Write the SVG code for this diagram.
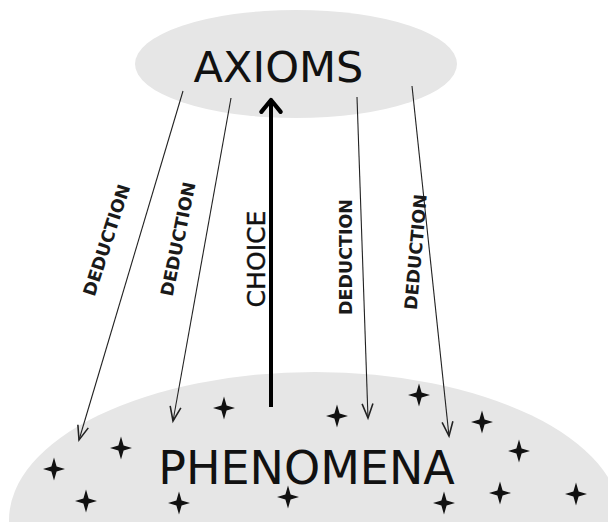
<svg xmlns="http://www.w3.org/2000/svg" xmlns:xlink="http://www.w3.org/1999/xlink" width="608" height="522" viewBox="0 0 608 522">
  <style>
    .blob { fill: #e6e6e6; }
    .big { font-family: "DejaVu Sans", "Liberation Sans", sans-serif; fill: #111; text-anchor: middle; }
    .ded { font-family: "DejaVu Sans", "Liberation Sans", sans-serif; font-weight: bold; font-size: 17.5px; fill: #1a1a1a; text-anchor: middle; }
    .choice { font-family: "DejaVu Sans", "Liberation Sans", sans-serif; font-size: 24px; fill: #111; stroke: #111; stroke-width: 0.4; text-anchor: middle; }
    .thin { stroke: #222; stroke-width: 1.1; fill: none; marker-end: url(#openHead); }
    .thick { stroke: #000; stroke-width: 4; fill: none; marker-end: url(#boldHead); }
    .star { fill: #111; }
  </style>
  <defs>
    <marker id="openHead" markerUnits="userSpaceOnUse" orient="auto" refX="0" refY="0" markerWidth="20" markerHeight="20" viewBox="-12 -6 14 12" overflow="visible">
      <path d="M-10,-3.8 L0,0 L-10,3.8" fill="none" stroke="#222" stroke-width="1.1"/>
    </marker>
    <marker id="boldHead" markerUnits="userSpaceOnUse" orient="auto" refX="0" refY="0" markerWidth="30" markerHeight="30" viewBox="-16 -14 20 28" overflow="visible">
      <path d="M-11,-9 L0,0 L-11,9" fill="none" stroke="#000" stroke-width="4" stroke-linecap="round" stroke-linejoin="round"/>
    </marker>
    <path id="star" class="star" d="M0,-11.5 L2.6,-2.6 L11,0 L2.6,2.6 L0,11.5 L-2.6,2.6 L-11,0 L-2.6,-2.6 Z"/>
  </defs>

  <g id="phenomena">
    <ellipse class="blob" cx="315" cy="520" rx="306" ry="148"/>
    <text class="big" x="306.5" y="484" font-size="46">PHENOMENA</text>
    <g id="stars">
      <use xlink:href="#star" x="224" y="408"/>
      <use xlink:href="#star" x="337" y="416"/>
      <use xlink:href="#star" x="419" y="395"/>
      <use xlink:href="#star" x="482" y="422"/>
      <use xlink:href="#star" x="121" y="448"/>
      <use xlink:href="#star" x="54" y="469"/>
      <use xlink:href="#star" x="519" y="451"/>
      <use xlink:href="#star" x="86" y="501"/>
      <use xlink:href="#star" x="179" y="503"/>
      <use xlink:href="#star" x="288" y="497"/>
      <use xlink:href="#star" x="444" y="503"/>
      <use xlink:href="#star" x="500" y="493"/>
      <use xlink:href="#star" x="576" y="494"/>
    </g>
  </g>

  <g id="axioms">
    <ellipse class="blob" cx="296" cy="64" rx="161" ry="54"/>
    <text class="big" x="278.5" y="82" font-size="43">AXIOMS</text>
  </g>

  <g id="connectors">
    <line class="thin" x1="183" y1="91" x2="79" y2="440"/>
    <line class="thin" x1="231" y1="98" x2="173" y2="421"/>
    <line class="thick" x1="271" y1="407" x2="271" y2="100"/>
    <line class="thin" x1="357" y1="97" x2="368" y2="418"/>
    <line class="thin" x1="412" y1="86" x2="449" y2="436"/>
  </g>

  <g id="labels">
    <g transform="translate(106.5,240) rotate(-72)"><text class="ded" x="0" y="6.3">DEDUCTION</text></g>
    <g transform="translate(178,239) rotate(-78.5)"><text class="ded" x="0" y="6.3">DEDUCTION</text></g>
    <g transform="translate(256,259) rotate(-90)"><text class="choice" x="0" y="8.7" textLength="97" lengthAdjust="spacingAndGlyphs">CHOICE</text></g>
    <g transform="translate(346,257) rotate(-90)"><text class="ded" x="0" y="6.3">DEDUCTION</text></g>
    <g transform="translate(415.5,252) rotate(-85)"><text class="ded" x="0" y="6.3">DEDUCTION</text></g>
  </g>
</svg>
